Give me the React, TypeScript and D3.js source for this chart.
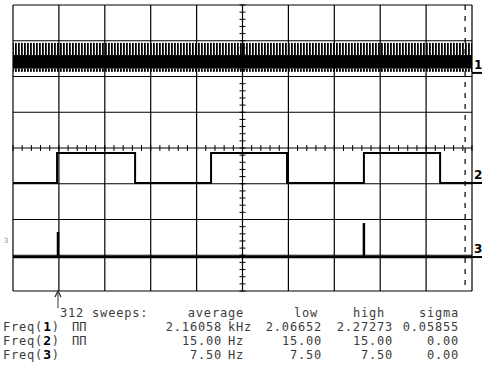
import * as d3 from "d3";

// scope screen: 10 x 8 divisions, 20 ms/div
const timeDomain = [0, 200];
const divDomain = [-4, 4];
const cursorMs = 197;

// channel 1: 2.16 kHz, too dense to resolve -> drawn as a band (div)
const ch1Band = { high: 2.94, low: 2.13, solidTop: 2.6, solidBottom: 2.22 };
// channel 2: 15 Hz square wave, edge times in ms (starts low)
const ch2Edges = [19.2, 53.2, 86.3, 119.4, 152.9, 186.1];
const ch2Levels = { low: -0.98, high: -0.14 };
// channel 3: 7.5 Hz narrow pulses
const ch3Base = -3.05;
const ch3Pulses = [
  { t: 19.6, peak: -2.35 },
  { t: 152.9, peak: -2.1 },
];
const markerLevels = [2.1, -0.98, -3.05];
const markerLabels = ["1", "2", "3"];

const sweeps = 312;
const statHeaders = ["average", "low", "high", "sigma"];
const chNames = ["1", "2", "3"];
const showWave = [true, true, false];
const avgValues = ["2.16058", "15.00", "7.50"];
const avgUnits = ["kHz", "Hz", "Hz"];
const lowValues = ["2.06652", "15.00", "7.50"];
const highValues = ["2.27273", "15.00", "7.50"];
const sigmaValues = ["0.05855", "0.00", "0.00"];

const W = 482;
const H = 385;
const screen = { left: 13, right: 472, top: 5, bottom: 291 };
const mono = "'DejaVu Sans Mono', 'Liberation Mono', monospace";
const txt = "#3c3c3c";

export default function App() {
  const x = d3.scaleLinear().domain(timeDomain).range([screen.left, screen.right]);
  const y = d3.scaleLinear().domain(divDomain).range([screen.bottom, screen.top]);
  const xDivs = d3.range(0, 201, 20);
  const yDivs = d3.range(-4, 4.01, 1);
  const xMinor = d3.range(0, 200.01, 4);
  const yMinor = d3.range(-4, 4.01, 0.2);

  // channel 2 polyline
  const ch2Pts: [number, number][] = [[timeDomain[0], ch2Levels.low]];
  let level = ch2Levels.low;
  ch2Edges.forEach((t) => {
    ch2Pts.push([t, level]);
    level = level === ch2Levels.low ? ch2Levels.high : ch2Levels.low;
    ch2Pts.push([t, level]);
  });
  ch2Pts.push([timeDomain[1], level]);
  const line = d3
    .line<[number, number]>()
    .x((d) => x(d[0]))
    .y((d) => y(d[1]));

  const rowY = [317, 331, 345, 359];
  const col = { avgEnd: 222, unit: 228, lowEnd: 322, highEnd: 393, sigmaEnd: 459 };

  return (
    <svg
      width={W}
      height={H}
      style={{ position: "absolute", left: 0, top: 0, background: "#fff" }}
    >
      <defs>
        <pattern id="stripes" width={3} height={4} patternUnits="userSpaceOnUse">
          <rect width={1.8} height={4} fill="#000" />
        </pattern>
      </defs>

      {/* grid */}
      <g stroke="#000" strokeWidth={1.2}>
        {xDivs.map((t) => (
          <line key={`vx${t}`} x1={x(t)} x2={x(t)} y1={screen.top} y2={screen.bottom} />
        ))}
        {yDivs.map((v) => (
          <line key={`hy${v}`} x1={screen.left} x2={screen.right} y1={y(v)} y2={y(v)} />
        ))}
        {xMinor.map((t) => (
          <line key={`mx${t}`} x1={x(t)} x2={x(t)} y1={y(0) - 3} y2={y(0) + 3} strokeWidth={1} />
        ))}
        {yMinor.map((v) => (
          <line key={`my${v}`} x1={x(100) - 3} x2={x(100) + 3} y1={y(v)} y2={y(v)} strokeWidth={1} />
        ))}
      </g>

      {/* cursor */}
      <line
        x1={x(cursorMs)}
        x2={x(cursorMs)}
        y1={screen.top}
        y2={screen.bottom}
        stroke="#000"
        strokeWidth={1.2}
        strokeDasharray="5 6"
      />

      {/* channel 1 */}
      <rect
        x={x(timeDomain[0])}
        width={x(timeDomain[1]) - x(timeDomain[0])}
        y={y(ch1Band.high)}
        height={y(ch1Band.solidTop) - y(ch1Band.high)}
        fill="url(#stripes)"
      />
      <rect
        x={x(timeDomain[0])}
        width={x(timeDomain[1]) - x(timeDomain[0])}
        y={y(ch1Band.solidTop)}
        height={y(ch1Band.solidBottom) - y(ch1Band.solidTop)}
        fill="#000"
      />
      <rect
        x={x(timeDomain[0])}
        width={x(timeDomain[1]) - x(timeDomain[0])}
        y={y(ch1Band.solidBottom)}
        height={y(ch1Band.low) - y(ch1Band.solidBottom)}
        fill="url(#stripes)"
      />

      {/* channel 2 */}
      <path d={line(ch2Pts) ?? ""} fill="none" stroke="#000" strokeWidth={2} />

      {/* channel 3 */}
      <line x1={x(timeDomain[0])} x2={x(timeDomain[1])} y1={y(ch3Base)} y2={y(ch3Base)} stroke="#000" strokeWidth={2.5} />
      {ch3Pulses.map((p) => (
        <line key={p.t} x1={x(p.t)} x2={x(p.t)} y1={y(ch3Base)} y2={y(p.peak)} stroke="#000" strokeWidth={2.5} />
      ))}

      {/* channel markers */}
      {markerLevels.map((v, i) => (
        <g key={markerLabels[i]}>
          <line x1={screen.right} x2={W} y1={y(v)} y2={y(v)} stroke="#000" strokeWidth={2} />
          <text
            x={474}
            y={y(v) - 4}
            fontFamily="'DejaVu Sans', sans-serif"
            fontWeight="bold"
            fontSize={12}
            fill="#000"
          >
            {markerLabels[i]}
          </text>
        </g>
      ))}
      <text x={4} y={243} fontFamily={mono} fontSize={7} fill="#888">3</text>

      {/* trigger arrow */}
      <line x1={x(ch3Pulses[0].t)} x2={x(ch3Pulses[0].t)} y1={screen.bottom} y2={308} stroke="#555" strokeWidth={1.2} />
      <path
        d={`M${x(ch3Pulses[0].t) - 3},${screen.bottom + 6} L${x(ch3Pulses[0].t)},${screen.bottom} L${x(ch3Pulses[0].t) + 3},${screen.bottom + 6}`}
        fill="none"
        stroke="#333"
        strokeWidth={1.3}
      />

      {/* statistics */}
      <g fontFamily={mono} fontSize={12} fill={txt} letterSpacing={0.8}>
        <text x={60} y={rowY[0]}>{`${sweeps} sweeps:`}</text>
        <text x={col.avgEnd + 22} y={rowY[0]} textAnchor="end">{statHeaders[0]}</text>
        <text x={col.lowEnd - 4} y={rowY[0]} textAnchor="end">{statHeaders[1]}</text>
        <text x={col.highEnd - 8} y={rowY[0]} textAnchor="end">{statHeaders[2]}</text>
        <text x={col.sigmaEnd} y={rowY[0]} textAnchor="end">{statHeaders[3]}</text>
        {chNames.map((c, i) => (
          <g key={c}>
            <text x={3} y={rowY[i + 1]}>
              Freq(<tspan fontWeight="bold" fill="#000" fontSize={13}>{c}</tspan>)
            </text>
            {showWave[i] && (
              <text x={72} y={rowY[i + 1]} letterSpacing={0}>ΠΠ</text>
            )}
            <text x={col.avgEnd} y={rowY[i + 1]} textAnchor="end">{avgValues[i]}</text>
            <text x={col.unit} y={rowY[i + 1]}>{avgUnits[i]}</text>
            <text x={col.lowEnd} y={rowY[i + 1]} textAnchor="end">{lowValues[i]}</text>
            <text x={col.highEnd} y={rowY[i + 1]} textAnchor="end">{highValues[i]}</text>
            <text x={col.sigmaEnd} y={rowY[i + 1]} textAnchor="end">{sigmaValues[i]}</text>
          </g>
        ))}
      </g>
    </svg>
  );
}
